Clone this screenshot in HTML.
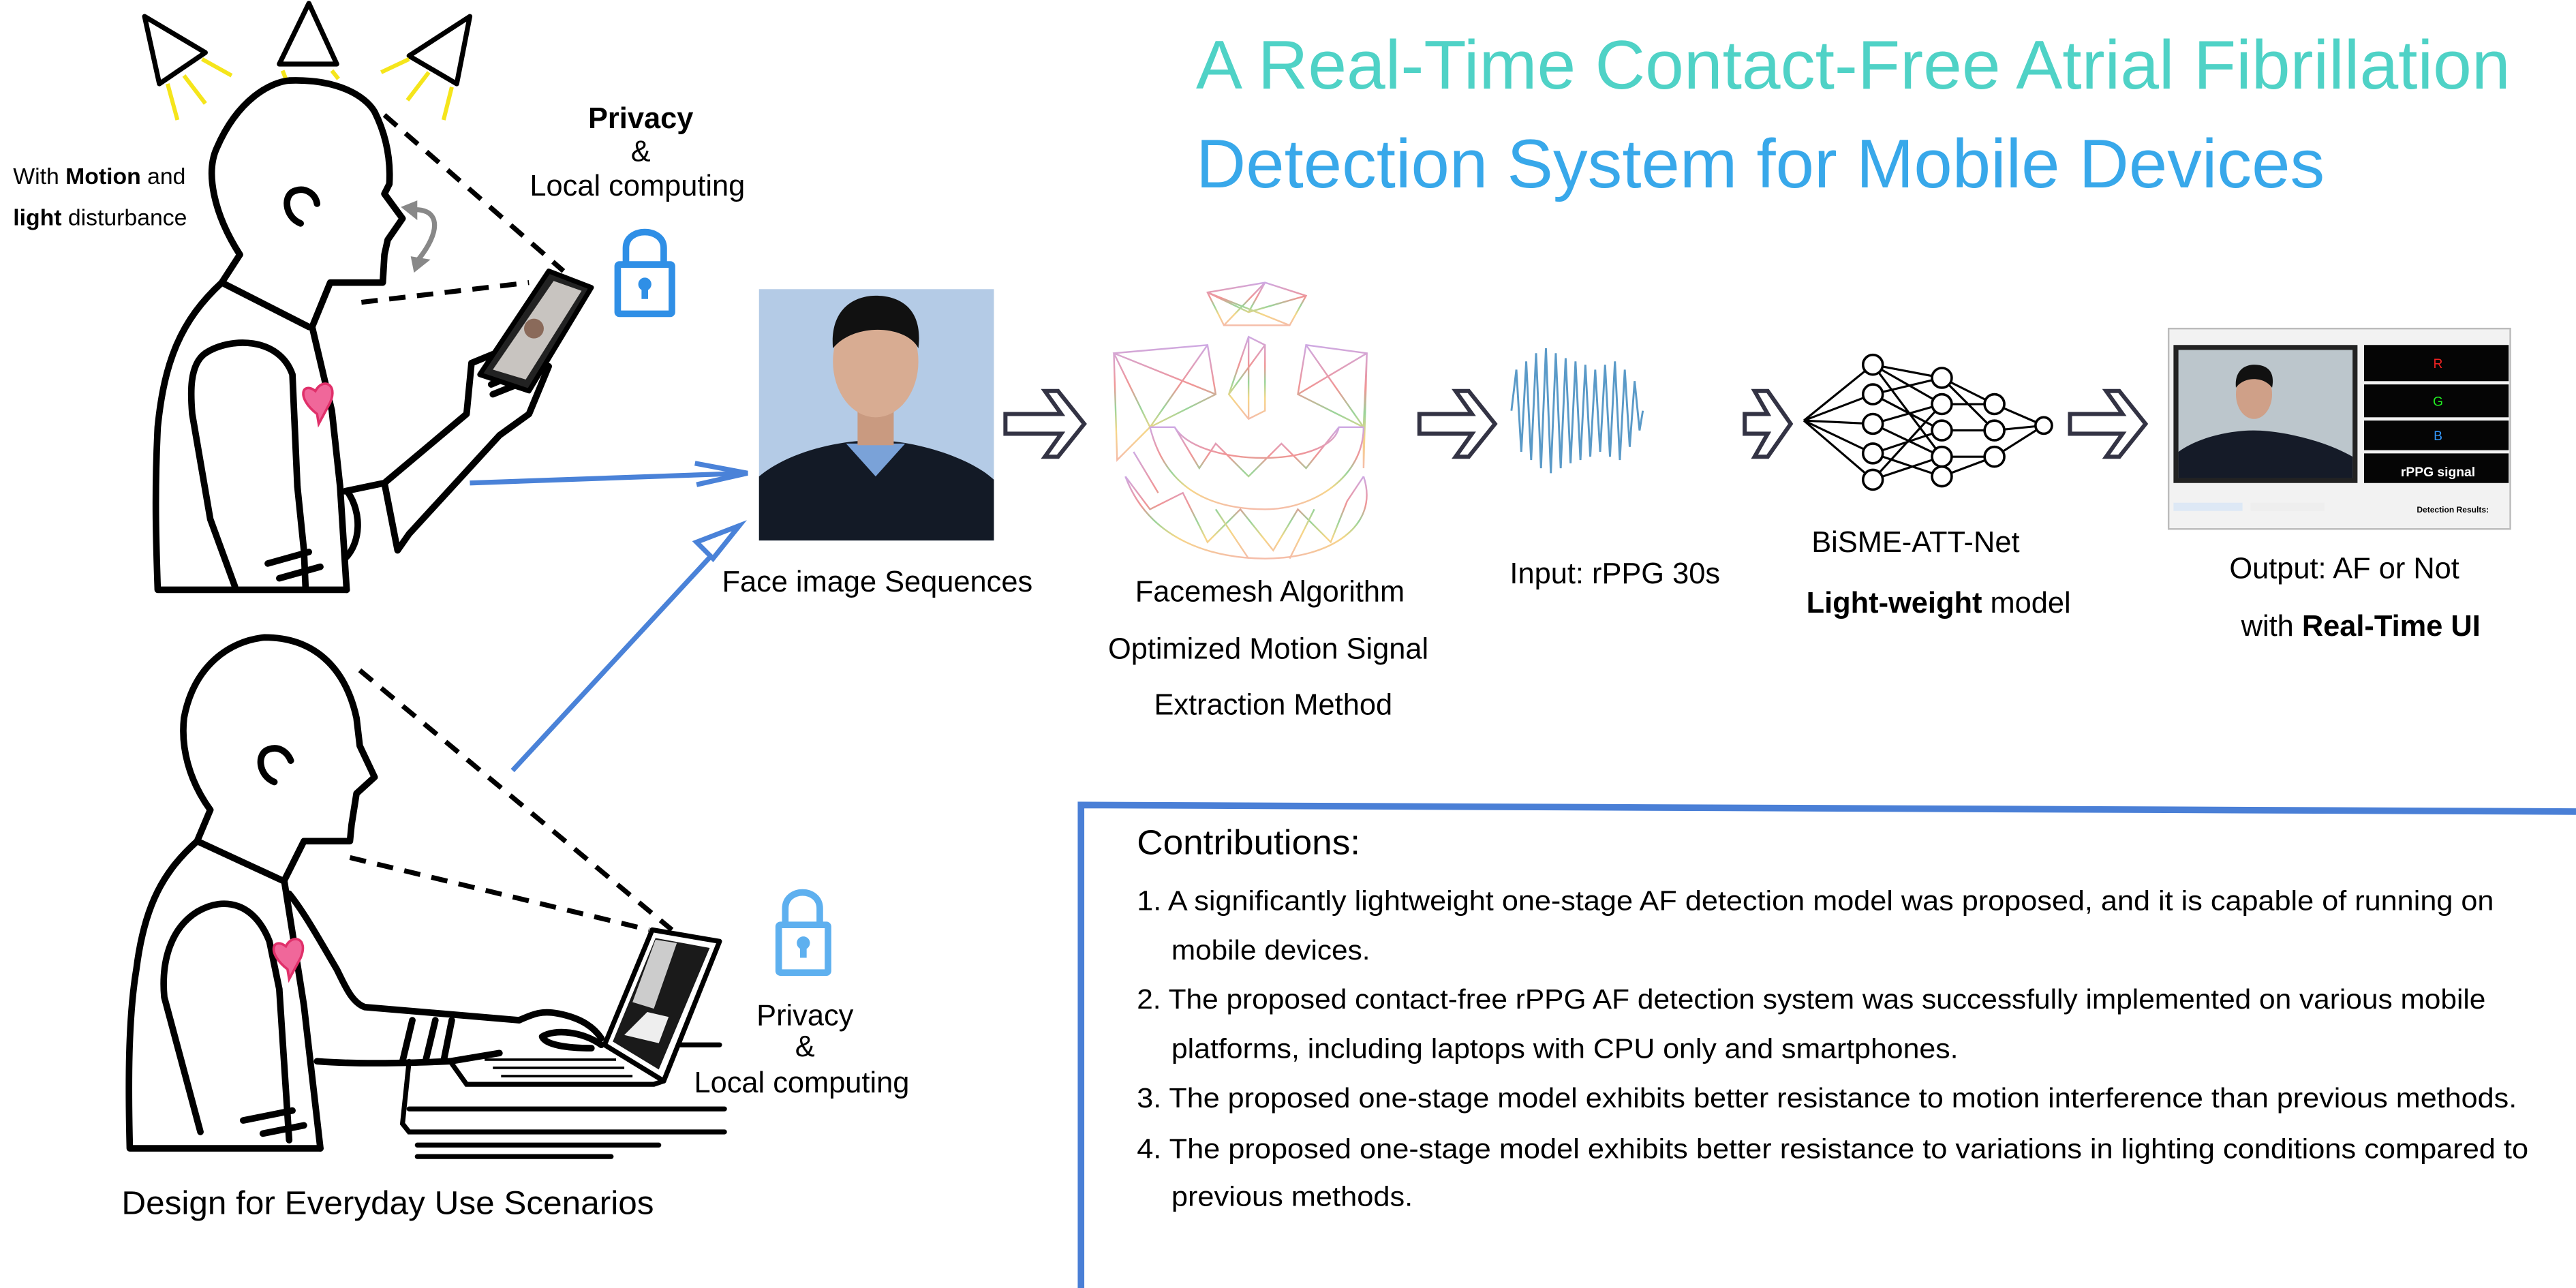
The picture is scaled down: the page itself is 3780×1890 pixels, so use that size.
<!DOCTYPE html>
<html><head><meta charset="utf-8"><style>
html,body{margin:0;padding:0;background:#fff;}
svg{display:block}
text{font-family:"Liberation Sans","DejaVu Sans",sans-serif;}
</style></head><body>
<svg width="3780" height="1890" viewBox="0 0 1568 784" xmlns="http://www.w3.org/2000/svg">
<defs>
<linearGradient id="mesh" x1="0" y1="0" x2="0" y2="1">
<stop offset="0" stop-color="#c9a0e0"/><stop offset="0.35" stop-color="#f08a8a"/><stop offset="0.55" stop-color="#8fd08f"/><stop offset="0.75" stop-color="#f6d27a"/><stop offset="1" stop-color="#f5b6a0"/></linearGradient>
</defs>
<rect width="1568" height="784" fill="#fff"/>
<!-- Title -->
<text x="728" y="54" font-size="42" fill="#4fd2c6" textLength="800" lengthAdjust="spacingAndGlyphs">A Real-Time Contact-Free Atrial Fibrillation</text>
<text x="728" y="114" font-size="42" fill="#38a8ea" textLength="687" lengthAdjust="spacingAndGlyphs">Detection System for Mobile Devices</text>

<!-- lights -->
<g fill="#fff" stroke="#000" stroke-width="3" stroke-linejoin="round">
<polygon points="88,10 125,32 97,51"/><polygon points="188,2 205,39 170,39"/><polygon points="249,34 286,10 278,51"/>
</g>
<g stroke="#f5e51b" stroke-width="2.5">
<line x1="102" y1="51" x2="108" y2="73"/><line x1="112" y1="46" x2="125" y2="63"/><line x1="123" y1="36" x2="141" y2="46"/>
<line x1="232" y1="44" x2="249" y2="36"/><line x1="248" y1="61" x2="261" y2="44"/><line x1="270" y1="73" x2="275" y2="53"/>
<line x1="172" y1="43" x2="174" y2="48"/><line x1="202" y1="43" x2="206" y2="48"/>
</g>

<!-- person 1 -->
<g fill="none" stroke="#000" stroke-width="4" stroke-linejoin="round" stroke-linecap="round">
<path d="M146,155 C130,130 125,105 132,90 C145,60 165,50 176,49 C205,48 222,58 228,68 C234,80 238,95 237,112 L234,118 L245,133 L236,146 L234,155 L233,172 L201,172 L190,199"/>
<path d="M146,155 L135,172"/>
<path d="M183,136 C173,132 172,118 180,116 C186,114 192,118 193,124"/>
<path d="M135,172 L188,199"/>
<path d="M135,172 C110,195 100,220 96,260 C94,300 95,330 96,359 L211,359"/>
<path d="M190,199 L202,250 L207,296 L211,359"/>
<path d="M181,296 L178,228 C170,205 140,205 125,215 C115,222 116,240 117,252 L128,316 L143,357"/>
<path d="M181,296 L185,335 L186,358"/>
<path d="M163,343 L188,336 M170,352 L195,345"/>
<path d="M210,299 L234,294 L284,252 L287,221 L304,214"/>
<path d="M234,294 L242,335 L249,325 L304,265 L322,252 L334,223"/>
<path d="M212,300 C220,312 220,330 210,340"/>
<path d="M299,234 L318,226 M300,240 L320,232"/>
</g>
<!-- phone 1 -->
<polygon points="334,165 360,175 322,238 292,228" fill="#222" stroke="#000" stroke-width="3" stroke-linejoin="round"/>
<polygon points="337,171 354,177 320,231 300,225" fill="#c8c4c0"/>
<circle cx="325" cy="200" r="6" fill="#8a6a5a"/>
<path d="M234,70 L343,165" stroke="#000" stroke-width="3" stroke-dasharray="10,7" fill="none"/>
<path d="M220,184 L322,172" stroke="#000" stroke-width="3" stroke-dasharray="10,7" fill="none"/>
<path d="M248,128 C268,125 270,140 253,160" stroke="#888" stroke-width="3" fill="none"/>
<polygon points="244,126 254,122 254,134" fill="#888"/>
<polygon points="250,156 262,158 252,166" fill="#888"/>
<path d="M193,252 C180,242 184,232 192,238 C196,230 206,233 201,245 L194,258 Z" fill="#f0679a" stroke="#e0306a" stroke-width="1.5"/>

<text x="8" y="112" font-size="14">With <tspan font-weight="bold">Motion</tspan> and</text>
<text x="8" y="137" font-size="14"><tspan font-weight="bold">light</tspan> disturbance</text>
<text x="390" y="78" font-size="18" font-weight="bold" text-anchor="middle">Privacy</text>
<text x="390" y="98" font-size="18" text-anchor="middle">&amp;</text>
<text x="388" y="119" font-size="18" text-anchor="middle">Local computing</text>
<!-- lock 1 -->
<g stroke="#2f8fe6" stroke-width="4" fill="none"><path d="M381,161 L381,151 C381,138 404,138 404,151 L404,161"/><rect x="376" y="161" width="33" height="30" rx="1"/></g>
<circle cx="392.5" cy="173" r="4" fill="#2f8fe6"/><rect x="390.5" y="174" width="4" height="8" fill="#2f8fe6"/>

<!-- person 2 -->
<g fill="none" stroke="#000" stroke-width="4" stroke-linejoin="round" stroke-linecap="round">
<path d="M128,493 C115,475 110,455 112,437 C118,405 140,390 161,388 C190,388 210,405 217,437 L219,454 L228,473 L217,483 L214,502 L213,512 L185,512 L173,536"/>
<path d="M128,493 L120,512"/>
<path d="M167,476 C157,472 156,458 164,456 C170,454 175,458 177,463"/>
<path d="M120,512 L172,536"/>
<path d="M120,512 C100,530 88,550 83,590 C78,620 78,660 79,699 L195,699"/>
<path d="M173,536 L185,612 L195,699"/>
<path d="M170,602 L164,573 C155,550 137,545 120,555 C104,565 98,585 100,607 L122,689"/>
<path d="M170,602 L176,694"/>
<path d="M148,682 L178,676 M160,690 L185,685"/>
<path d="M176,544 C185,555 195,573 205,590 C210,600 214,610 222,613 L316,621 C325,617 330,615 340,617 C355,620 362,626 366,632"/>
<path d="M193,646 C220,648 250,647 274,646 L304,641"/>
<path d="M330,631 C338,626 355,628 366,636 M330,631 C332,636 345,638 360,638"/>
<path d="M245,646 L251,621 M259,646 L265,621 M270,646 L275,621"/>
</g>
<!-- laptop -->
<polygon points="397,566 438,573 404,658 368,636" fill="#fff" stroke="#000" stroke-width="3" stroke-linejoin="round"/>
<polygon points="399,571 432,577 401,651 373,634" fill="#1a1a1a"/>
<polygon points="399,572 412,574 398,614 385,610" fill="#ccc"/>
<polygon points="394,616 407,619 401,635 380,630" fill="#eee"/>
<g stroke="#000" stroke-width="3" stroke-linecap="round" fill="none">
<path d="M413,636 L438,636"/>
<path d="M274,646 L284,660 L398,660 L404,658"/>
<path d="M249,646 L245,684 L249,689 L441,689"/>
<line x1="249" y1="675" x2="441" y2="675"/>
<line x1="254" y1="697" x2="401" y2="697"/><line x1="254" y1="704" x2="372" y2="704"/>
</g>
<g stroke="#000" stroke-width="1.5"><line x1="300" y1="650" x2="380" y2="650"/><line x1="305" y1="655" x2="385" y2="655"/><line x1="295" y1="645" x2="375" y2="645"/></g>
<path d="M219,408 L409,566" stroke="#000" stroke-width="3" stroke-dasharray="10,7" fill="none"/>
<path d="M213,522 L395,566" stroke="#000" stroke-width="3" stroke-dasharray="10,7" fill="none"/>
<path d="M175,590 C162,580 166,570 174,576 C178,568 188,571 183,583 L176,596 Z" fill="#f0679a" stroke="#e0306a" stroke-width="1.5"/>

<!-- lock 2 -->
<g stroke="#5eb0ef" stroke-width="4" fill="none"><path d="M478,563 L478,553 C478,540 499,540 499,553 L499,563"/><rect x="474" y="563" width="30" height="29" rx="1"/></g>
<circle cx="489" cy="574" r="4" fill="#5eb0ef"/><rect x="487" y="575" width="4" height="8" fill="#5eb0ef"/>
<text x="490" y="624" font-size="18" text-anchor="middle">Privacy</text>
<text x="490" y="643" font-size="18" text-anchor="middle">&amp;</text>
<text x="488" y="665" font-size="18" text-anchor="middle">Local computing</text>
<text x="74" y="739" font-size="20" textLength="324" lengthAdjust="spacingAndGlyphs">Design for Everyday  Use Scenarios</text>

<!-- blue arrows -->
<g stroke="#4a82d8" stroke-width="3" fill="none">
<line x1="286" y1="294" x2="455" y2="288"/>
<polyline points="423,282 455,288 424,295"/>
<line x1="312" y1="469" x2="448" y2="322"/>
<polygon points="450,320 424,330 434,340" fill="#fff"/>
</g>

<!-- face photo -->
<rect x="462" y="176" width="143" height="153" fill="#b4cbe6"/>
<path d="M462,329 L462,290 C480,275 510,268 533,268 C556,268 590,278 605,292 L605,329 Z" fill="#131a26"/>
<path d="M515,270 L533,290 L551,270 Z" fill="#7aa2d8"/>
<rect x="522" y="245" width="22" height="26" fill="#c99a80"/>
<ellipse cx="533" cy="220" rx="26" ry="34" fill="#d8ac92"/>
<path d="M507,212 C505,188 520,180 533,180 C548,180 562,188 559,212 C552,198 520,196 507,212 Z" fill="#111"/>

<!-- chevron arrows -->
<g stroke="#334" stroke-width="2.5" fill="#fff" stroke-linejoin="miter">
<path d="M612,252 L646,252 L636,238 L644,238 L660,258 L644,278 L636,278 L646,264 L612,264 Z"/>
<path d="M864,252 L896,252 L886,238 L894,238 L910,258 L894,278 L886,278 L896,264 L864,264 Z"/>
<path d="M1062,252 L1076,252 L1068,238 L1076,238 L1090,258 L1076,278 L1068,278 L1076,264 L1062,264 Z"/>
<path d="M1260,252 L1292,252 L1282,238 L1290,238 L1306,258 L1290,278 L1282,278 L1292,264 L1260,264 Z"/>
</g>

<!-- face mesh -->
<g stroke="url(#mesh)" stroke-width="1" fill="none" opacity="0.9">
<polygon points="735,178 770,172 795,180 785,198 745,198"/>
<path d="M735,178 L785,198 M770,172 L745,198 M795,180 L760,190 L735,178 M760,190 L770,172"/>
<path d="M678,215 L735,210 L740,240 L700,260 Z M678,215 L740,240 M735,210 L700,260 M700,260 L680,280 L678,215"/>
<path d="M832,215 L795,210 L790,240 L830,260 Z M832,215 L790,240 M795,210 L830,260 M830,260 L830,285 L832,215"/>
<path d="M760,205 L770,210 L770,250 L760,255 L748,240 Z M748,240 L770,210 M760,205 L760,255"/>
<path d="M700,260 C710,300 740,310 770,310 C800,310 830,290 830,260 M715,260 C730,285 810,285 815,260 M700,260 L715,260 L730,285 L740,270 L760,290 L780,270 L795,285 L815,260 L830,260"/>
<path d="M685,290 C700,330 740,340 770,340 C810,340 840,320 830,290 M685,290 L700,310 L720,300 L735,330 L755,310 L775,335 L790,310 L810,330 L820,305 L830,290"/>
<path d="M690,275 L705,300 M740,310 L760,340 M800,310 L785,340"/>
</g>

<!-- signal -->
<path d="M920,250 L923,225 L926,275 L929,220 L932,280 L935,215 L938,285 L941,212 L944,288 L947,215 L950,285 L953,218 L956,282 L959,220 L962,280 L965,222 L968,278 L971,225 L974,275 L977,222 L980,278 L983,220 L986,280 L989,225 L992,272 L995,232 L998,262 L1000,250" stroke="#5a9ac8" stroke-width="1.2" fill="none"/>

<!-- neural net -->
<g stroke="#000" stroke-width="1.3" fill="none">
<path d="M1098,256 L1140,222 M1098,256 L1140,240 M1098,256 L1140,258 M1098,256 L1140,276 M1098,256 L1140,292"/>
<path d="M1140,222 L1182,230 M1140,222 L1182,246 M1140,240 L1182,230 M1140,240 L1182,262 M1140,258 L1182,246 M1140,258 L1182,278 M1140,276 L1182,262 M1140,276 L1182,290 M1140,292 L1182,278 M1140,292 L1182,246 M1140,222 L1182,278"/>
<path d="M1182,230 L1214,246 M1182,246 L1214,246 M1182,262 L1214,262 M1182,278 L1214,278 M1182,290 L1214,278 M1182,230 L1214,262"/>
<path d="M1214,246 L1244,259 M1214,262 L1244,259 M1214,278 L1244,259"/>
</g>
<g stroke="#000" stroke-width="1.5" fill="#fff">
<circle cx="1140" cy="222" r="6"/><circle cx="1140" cy="240" r="6"/><circle cx="1140" cy="258" r="6"/><circle cx="1140" cy="276" r="6"/><circle cx="1140" cy="292" r="6"/>
<circle cx="1182" cy="230" r="6"/><circle cx="1182" cy="246" r="6"/><circle cx="1182" cy="262" r="6"/><circle cx="1182" cy="278" r="6"/><circle cx="1182" cy="290" r="6"/>
<circle cx="1214" cy="246" r="6"/><circle cx="1214" cy="262" r="6"/><circle cx="1214" cy="278" r="6"/>
<circle cx="1244" cy="259" r="5"/>
</g>

<!-- UI screenshot -->
<rect x="1320" y="200" width="208" height="122" fill="#f2f2f2" stroke="#bbb" stroke-width="1"/>
<rect x="1323" y="210" width="112" height="84" fill="#222"/>
<rect x="1326" y="213" width="106" height="78" fill="#bcc6cc"/>
<path d="M1326,291 L1326,275 C1340,265 1360,262 1372,262 C1388,262 1415,268 1432,278 L1432,291 Z" fill="#151b28"/>
<ellipse cx="1372" cy="240" rx="11" ry="15" fill="#cfa088"/>
<path d="M1361,236 C1360,226 1366,222 1372,222 C1380,222 1385,226 1383,236 C1378,229 1366,229 1361,236 Z" fill="#111"/>
<rect x="1439" y="210" width="88" height="22" fill="#050505"/>
<rect x="1439" y="234" width="88" height="20" fill="#050505"/>
<rect x="1439" y="256" width="88" height="18" fill="#050505"/>
<rect x="1439" y="276" width="88" height="18" fill="#050505"/>
<text x="1484" y="224" font-size="8" fill="#e22" text-anchor="middle" font-family="Liberation Serif">R</text>
<text x="1484" y="247" font-size="8" fill="#2e2" text-anchor="middle" font-family="Liberation Serif">G</text>
<text x="1484" y="268" font-size="8" fill="#39f" text-anchor="middle" font-family="Liberation Serif">B</text>
<text x="1484" y="290" font-size="8" fill="#fff" text-anchor="middle" font-family="Liberation Serif" font-weight="bold">rPPG signal</text>
<rect x="1323" y="306" width="42" height="5" fill="#dde8f5"/><rect x="1370" y="306" width="45" height="5" fill="#eee"/>
<text x="1493" y="312" font-size="5" text-anchor="middle" font-weight="bold">Detection Results:</text>

<!-- labels -->
<text x="534" y="360" font-size="18" text-anchor="middle">Face image Sequences</text>
<text x="773" y="366" font-size="18" text-anchor="middle">Facemesh  Algorithm</text>
<text x="772" y="401" font-size="18" text-anchor="middle">Optimized Motion Signal</text>
<text x="775" y="435" font-size="18" text-anchor="middle">Extraction Method</text>
<text x="983" y="355" font-size="18" text-anchor="middle">Input: rPPG 30s</text>
<text x="1166" y="336" font-size="18" text-anchor="middle">BiSME-ATT-Net</text>
<text x="1180" y="373" font-size="18" text-anchor="middle"><tspan font-weight="bold">Light-weight</tspan> model</text>
<text x="1427" y="352" font-size="18" text-anchor="middle">Output: AF or Not</text>
<text x="1437" y="387" font-size="18" text-anchor="middle">with <tspan font-weight="bold">Real-Time UI</tspan></text>

<!-- contributions box -->
<path d="M658,784 L658,490 L1568,494" stroke="#4a7fd6" stroke-width="4" fill="none"/>
<g font-size="17" lengthAdjust="spacingAndGlyphs">
<text x="692" y="520" font-size="21" textLength="136" lengthAdjust="spacingAndGlyphs">Contributions:</text>
<text x="692" y="554" textLength="826" lengthAdjust="spacingAndGlyphs">1. A significantly lightweight one-stage AF detection model was proposed, and it is capable of running on</text>
<text x="713" y="584" textLength="121" lengthAdjust="spacingAndGlyphs">mobile devices.</text>
<text x="692" y="614" textLength="821" lengthAdjust="spacingAndGlyphs">2.  The proposed contact-free rPPG AF detection system was successfully implemented on various mobile</text>
<text x="713" y="644" textLength="479" lengthAdjust="spacingAndGlyphs">platforms, including laptops with CPU only and smartphones.</text>
<text x="692" y="674" textLength="840" lengthAdjust="spacingAndGlyphs">3. The proposed one-stage model exhibits better resistance to motion interference than previous methods.</text>
<text x="692" y="705" textLength="847" lengthAdjust="spacingAndGlyphs">4. The proposed one-stage model exhibits better resistance to variations in lighting conditions compared to</text>
<text x="713" y="734" textLength="147" lengthAdjust="spacingAndGlyphs">previous methods.</text>
</g>
</svg>
</body></html>
